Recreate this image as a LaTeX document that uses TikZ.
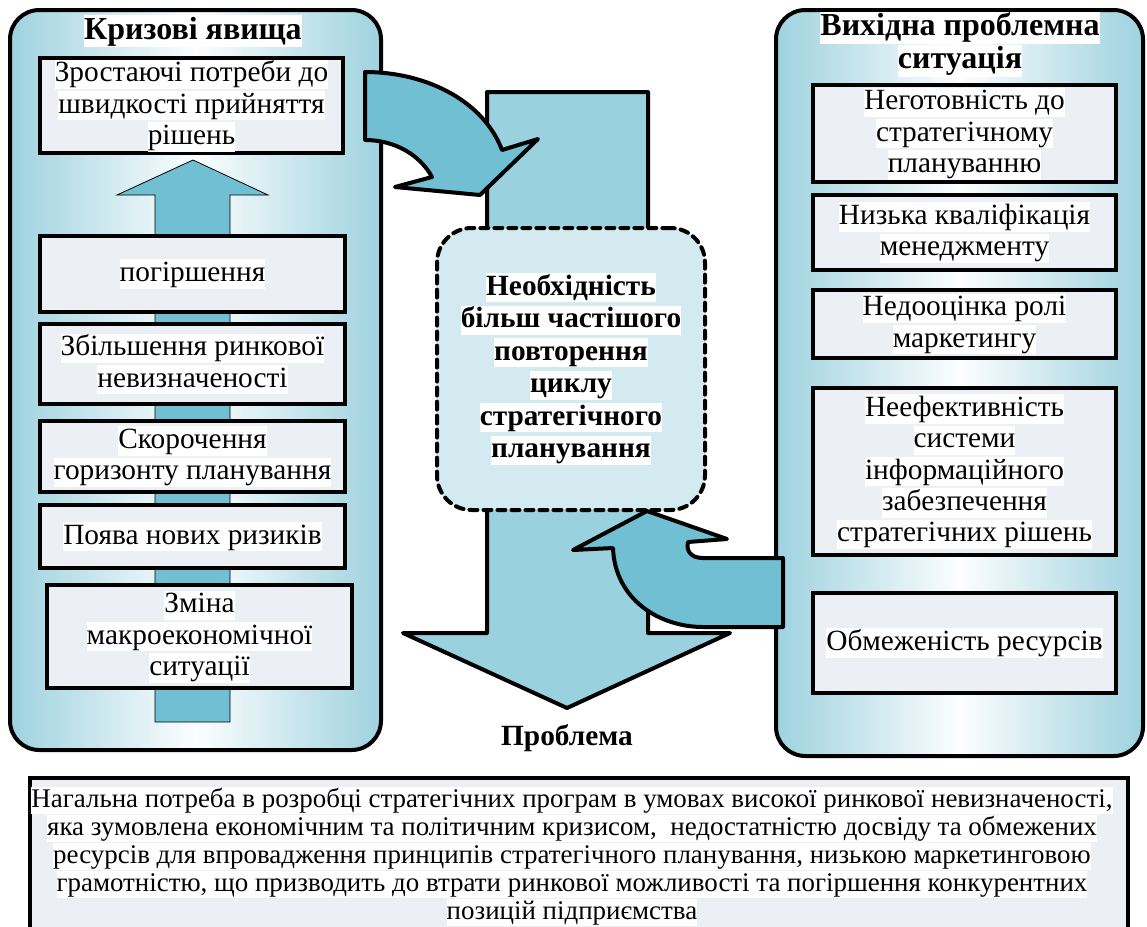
\documentclass[tikz,border=0pt]{standalone}
\usepackage{fontspec}
\setmainfont{Liberation Serif}
\definecolor{panel}{RGB}{158,210,223}
\definecolor{arrowA}{RGB}{112,191,211}
\definecolor{arrowB}{RGB}{154,209,222}
\definecolor{centerfill}{RGB}{211,235,240}
\definecolor{boxfill}{RGB}{236,240,245}
\newcommand{\hl}[1]{{\setlength{\fboxsep}{0pt}\colorbox{white}{\rule[-0.24em]{0pt}{1.0em}#1}}}
\tikzset{
  panelbox/.style={draw, line width=3pt, rounded corners=22pt, left color=panel, right color=panel, middle color=white!97!panel},
  itembox/.style={draw, line width=3pt, fill=boxfill, inner sep=0pt, align=center, font=\fontsize{22}{23.5}\selectfont},
  titletext/.style={inner sep=0pt, align=center, font=\fontsize{24}{24.75}\selectfont\bfseries},
  bigarrow/.style={draw, line width=3pt, line join=round, fill=arrowB},
  curvearrow/.style={draw, line width=3pt, line join=round, fill=arrowA},
  uparrow/.style={draw, line width=0.6pt, fill=arrowA},
  centerbox/.style={draw, line width=3pt, dash pattern=on 6pt off 4.5pt, line cap=round, rounded corners=26pt, fill=centerfill, inner sep=0pt, align=center, font=\fontsize{22}{24.4}\selectfont\bfseries},
  bottombox/.style={draw, line width=3pt, fill=boxfill}
}
\begin{document}
\begin{tikzpicture}[x=0.75pt, y=-0.75pt]
\useasboundingbox (0,0) rectangle (1147,926);

% panels
\path[panelbox] (10,10) rectangle (381,750);
\path[panelbox] (776,10) rectangle (1143,756);

% up arrow in left panel
\path[uparrow] (193,160) -- (268,195) -- (230,195) -- (230,722) -- (155,722) -- (155,195) -- (117,195) -- cycle;

% left title and boxes
\node[titletext] (ltitle) at (193,31) {\hl{Кризові явища}};
\node[itembox, minimum width=227.25pt, minimum height=71.25pt] (l1) at (191.5,105.5)
  {\hl{Зростаючі потреби до}\\\hl{швидкості прийняття}\\\hl{рішень}};
\node[itembox, minimum width=228.75pt, minimum height=57pt] (l2) at (192.5,274) {\hl{погіршення}};
\node[itembox, minimum width=228.75pt, minimum height=60pt] (l3) at (192.5,364)
  {\hl{Збільшення ринкової}\\\hl{невизначеності}};
\node[itembox, minimum width=228.75pt, minimum height=53.25pt] (l4) at (192.5,456.5)
  {\hl{Скорочення}\\\hl{горизонту планування}};
\node[itembox, minimum width=228.75pt, minimum height=47.25pt] (l5) at (192.5,536.5) {\hl{Поява нових ризиків}};
\node[itembox, minimum width=228.75pt, minimum height=77.25pt] (l6) at (199.5,636.5)
  {\hl{Зміна}\\\hl{макроекономічної}\\\hl{ситуації}};

% right title and boxes
\node[titletext] (rtitle) at (960,44) {\hl{Вихідна проблемна}\\\hl{ситуація}};
\node[itembox, minimum width=227.25pt, minimum height=72.75pt] (r1) at (964.5,133.5)
  {\hl{Неготовність до}\\\hl{стратегічному}\\\hl{плануванню}};
\node[itembox, minimum width=227.25pt, minimum height=56.25pt] (r2) at (964.5,232.5)
  {\hl{Низька кваліфікація}\\\hl{менеджменту}};
\node[itembox, minimum width=227.25pt, minimum height=51pt] (r3) at (964.5,324)
  {\hl{Недооцінка ролі}\\\hl{маркетингу}};
\node[itembox, minimum width=227.25pt, minimum height=125.25pt] (r4) at (964.5,471.5)
  {\hl{Неефективність}\\\hl{системи}\\\hl{інформаційного}\\\hl{забезпечення}\\\hl{стратегічних рішень}};
\node[itembox, minimum width=227.25pt, minimum height=75pt] (r5) at (964.5,643) {\hl{Обмеженість ресурсів}};

% big down arrow
\path[bigarrow] (487,92) -- (648,92) -- (648,633) -- (730,633) -- (567,708) -- (403,633) -- (487,633) -- cycle;

% central node
\node[centerbox, minimum width=201pt, minimum height=211.5pt] (c) at (571,369)
  {\hl{Необхідність}\\\hl{більш частішого}\\\hl{повторення}\\\hl{циклу}\\\hl{стратегічного}\\\hl{планування}};

% curved arrows
\path[curvearrow] (365,72) .. controls (428,72) and (484,102) .. (502,150) -- (538,139) -- (480,195) -- (395,187) -- (432,177)
  .. controls (420,155) and (395,140) .. (365,140) -- cycle;
\path[curvearrow] (783,558) -- (703,558) .. controls (690,558) and (686,550) .. (688,542) -- (727,539) -- (647,511) -- (573,550) -- (613,548)
  .. controls (615,600) and (660,627) .. (703,627) -- (783,627) -- cycle;

% problem label
\node[titletext, font=\fontsize{22}{24}\selectfont\bfseries] (prob) at (567,738) {Проблема};

% bottom box
\path[bottombox] (30,778) rectangle (1128,945);
\node[inner sep=0pt, align=center, font=\fontsize{20.2}{21}\selectfont, anchor=north] (btext) at (572,787)
  {\hl{Нагальна потреба в розробці стратегічних програм в умовах високої ринкової невизначеності,}\\
   \hl{яка зумовлена економічним та політичним кризисом,\ \ недостатністю досвіду та обмежених}\\
   \hl{ресурсів для впровадження принципів стратегічного планування, низькою маркетинговою}\\
   \hl{грамотністю, що призводить до втрати ринкової можливості та погіршення конкурентних}\\
   \hl{позицій підприємства}};
\end{tikzpicture}
\end{document}
